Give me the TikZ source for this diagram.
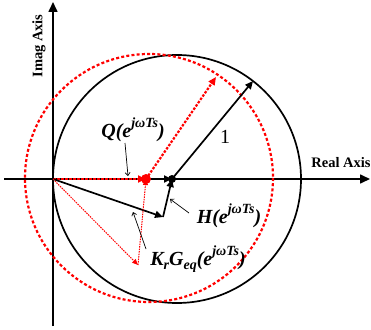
\documentclass[tikz,border=0pt]{standalone}
\usepackage{fontspec}
\setmainfont{Liberation Serif}
\usetikzlibrary{arrows.meta}
\newcommand{\upx}[1]{\raisebox{0.5em}{\fontsize{14}{14}\selectfont #1}}
\newcommand{\dnx}[1]{\raisebox{-0.22em}{\fontsize{14}{14}\selectfont #1}}

\begin{document}
\begin{tikzpicture}[
  x=1pt, y=-1pt,
  axis/.style={line width=1.6pt, -{Triangle[length=10pt, width=9pt]}},
  ring/.style={line width=1.7pt},
  redring/.style={line width=2.2pt, red, dash pattern=on 3pt off 2.2pt},
  vec/.style={line width=1.7pt, -{Triangle[length=8pt, width=7pt]}},
  redvec/.style={line width=2.2pt, red, dash pattern=on 2.5pt off 1.5pt, -{Triangle[length=8pt, width=7pt]}},
  redthin/.style={line width=1pt, red, dash pattern=on 1.5pt off 1pt, -{Triangle[length=6pt, width=5pt]}},
  leader/.style={line width=0.7pt, -{Straight Barb[length=3pt, width=5pt]}},
  lbl/.style={font=\fontsize{20}{20}\selectfont\bfseries\itshape, inner sep=0pt},
  axlbl/.style={font=\fontsize{14.5}{14.5}\selectfont\bfseries, inner sep=0pt}
]
\useasboundingbox (0,0) rectangle (371,329);

\coordinate (O)  at (53,179);
\coordinate (Cb) at (177,179);
\coordinate (Cr) at (149,178);
\coordinate (Hc) at (172,179);
\coordinate (Qc) at (146,179);
\coordinate (P1) at (253,81);
\coordinate (R1) at (216,77);
\coordinate (Gk) at (163,217);
\coordinate (KG) at (138,265);

\draw[axis] (53,326) -- (53,2);
\draw[axis] (4,179) -- (370,179);
\node[axlbl] (real) at (341,163) {Real Axis};
\node[axlbl, rotate=90] (imag) at (39,46) {Imag Axis};

\draw[ring] (Cb) circle (124);
\draw[redring] (Cr) circle (124);

\draw[vec] (Hc) -- (P1);
\node[font=\fontsize{20}{20}\selectfont] (one) at (225,137) {1};
\draw[redvec] (Qc) -- (R1);

\draw[redvec] (O) -- (Qc);
\draw[vec] (Qc) -- (Hc);
\draw[vec] (O) -- (Gk);
\draw[vec] (Gk) -- (Hc);
\draw[redthin] (O) -- (KG);
\draw[redthin] (KG) -- (Qc);

\fill[red] (Qc) circle (5);
\fill (Hc) circle (4);

\node[lbl] (qlab) at (133,130) {Q(e\upx{jωTs})};
\node[lbl] (hlab) at (229,216) {H(e\upx{jωTs})};
\node[lbl] (klab) at (198,259) {K\dnx{r}G\dnx{eq}(e\upx{jωTs})};
\draw[leader] (125,143) -- (128,176);
\draw[leader] (189,213) -- (170,199);
\draw[leader] (146,249) -- (133,212);
\end{tikzpicture}
\end{document}
